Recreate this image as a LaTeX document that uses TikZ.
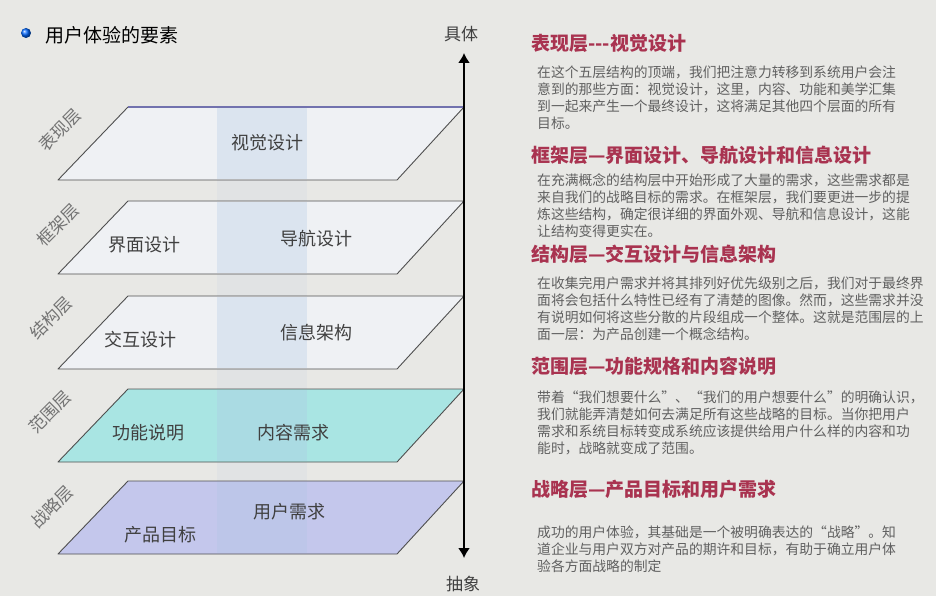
\documentclass[tikz,border=0pt]{standalone}
\usepackage{fontspec}
\usepackage{xcolor}
\usetikzlibrary{arrows.meta,positioning}
\setmainfont{Noto Sans CJK SC}
\definecolor{bgcol}{HTML}{E8E8E5}
\definecolor{headcol}{HTML}{A93350}
\definecolor{bodycol}{HTML}{606060}
\definecolor{edgecol}{HTML}{4F4F4F}
\definecolor{topedge}{HTML}{7272AE}
\definecolor{planewhite}{HTML}{EFF1F4}
\definecolor{planecyan}{HTML}{A9E5E3}
\definecolor{planeviolet}{HTML}{C4C7EC}
\definecolor{bandcol}{HTML}{AFC6E4}
\tikzset{
	thick,
	>={Latex[length=10pt,width=12pt]},
	plane/.style = {
			draw       = edgecol,
			line width = 0.9pt,
			line join  = round,
		}
}

\begin{document}
\begin{tikzpicture}
	[x=1pt, y=-1pt,
		% STYLES
		every node/.style={inner sep=0pt},
		% The layername style is used for the name of each layer, turned along the slant
		layername/.style={rotate=45, font=\fontsize{17}{17}\selectfont, text=black!55},
		% The item style is used for the texts inside a plane
		item/.style={font=\fontsize{18}{18}\selectfont, text=black!75},
		% The head style is used for the headings on the right
		head/.style={anchor=west, font=\bfseries\fontsize{19}{19}\selectfont, text=headcol},
		% The body style is used for the paragraphs under each heading
		body/.style={align=left, font=\fontsize{13.8}{17}\selectfont, text=bodycol}]

	% Background
	\fill[bgcol] (0,0) rectangle (936,596);
	\useasboundingbox (0,0) rectangle (936,596);

	% Title
	\shade[ball color=blue!60!cyan] (26,33) circle (5);
	\node[anchor=west, font=\fontsize{19}{19}\selectfont] (title) at (45,35) {用户体验的要素};

	% Draw planes
	\fill[bandcol, opacity=0.12] (217,107) rectangle (307,554);
	\foreach \y/\col in {107/planewhite, 201/planewhite, 296/planewhite, 389/planecyan, 481/planeviolet}{
		\draw[plane, fill=\col] (128,\y) -- (464,\y) -- (397,\y+73) -- (58,\y+73) -- cycle;
		\fill[bandcol, opacity=0.3] (217,\y+1) rectangle (307,\y+72);
	}
	\draw[topedge, line width=1.2pt] (128,107) -- (464,107);

	% Layer names
	\node[layername] (l1) at (60,130) {表现层};
	\node[layername] (l2) at (58,225) {框架层};
	\node[layername] (l3) at (51,318) {结构层};
	\node[layername] (l4) at (50,412) {范围层};
	\node[layername] (l5) at (52,507) {战略层};

	% Texts inside the planes
	\node[item] (visual) at (267,143) {视觉设计};
	\node[item] (interface) at (144,245) {界面设计};
	\node[item] (navigation) at (316,239) {导航设计};
	\node[item] (interaction) at (140,340) {交互设计};
	\node[item] (infoarch) at (316,333) {信息架构};
	\node[item] (function) at (148,433) {功能说明};
	\node[item] (content) at (293,433) {内容需求};
	\node[item] (userneeds) at (289,512) {用户需求};
	\node[item] (objectives) at (160,535) {产品目标};

	% Axis
	\node[font=\fontsize{17}{17}\selectfont, text=black!75] (concrete) at (461,34) {具体};
	\node[font=\fontsize{17}{17}\selectfont, text=black!75] (abstract) at (463,584) {抽象};
	\coordinate (axistop) at (464,53);
	\coordinate (axisbottom) at (464,558);
	\draw[<->, line width=1.8pt] (axistop) -- (axisbottom);

	% Headings and paragraphs
	\node[head] (h1) at (531,43) {表现层-{}-{}-视觉设计};
	\node[body, below right=13pt and 6pt of h1.south west] (t1) {
		在这个五层结构的顶端，我们把注意力转移到系统用户会注\\
		意到的那些方面：视觉设计，这里，内容、功能和美学汇集\\
		到一起来产生一个最终设计，这将满足其他四个层面的所有\\
		目标。
	};
	\node[head] (h2) at (531,155) {框架层—界面设计、导航设计和信息设计};
	\node[body, below right=9pt and 6pt of h2.south west] (t2) {
		在充满概念的结构层中开始形成了大量的需求，这些需求都是\\
		来自我们的战略目标的需求。在框架层，我们要更进一步的提\\
		炼这些结构，确定很详细的界面外观、导航和信息设计，这能\\
		让结构变得更实在。
	};
	\node[head] (h3) at (531,254) {结构层—交互设计与信息架构};
	\node[body, below right=13pt and 6pt of h3.south west] (t3) {
		在收集完用户需求并将其排列好优先级别之后，我们对于最终界\\
		面将会包括什么特性已经有了清楚的图像。然而，这些需求并没\\
		有说明如何将这些分散的片段组成一个整体。这就是范围层的上\\
		面一层：为产品创建一个概念结构。
	};
	\node[head] (h4) at (531,366) {范围层—功能规格和内容说明};
	\node[body, below right=15pt and 6pt of h4.south west] (t4) {
		带着“我们想要什么”、“我们的用户想要什么”的明确认识，\\
		我们就能弄清楚如何去满足所有这些战略的目标。当你把用户\\
		需求和系统目标转变成系统应该提供给用户什么样的内容和功\\
		能时，战略就变成了范围。
	};
	\node[head] (h5) at (531,489) {战略层—产品目标和用户需求};
	\node[body, below right=27pt and 6pt of h5.south west] (t5) {
		成功的用户体验，其基础是一个被明确表达的“战略”。知\\
		道企业与用户双方对产品的期许和目标，有助于确立用户体\\
		验各方面战略的制定
	};
\end{tikzpicture}
\end{document}
